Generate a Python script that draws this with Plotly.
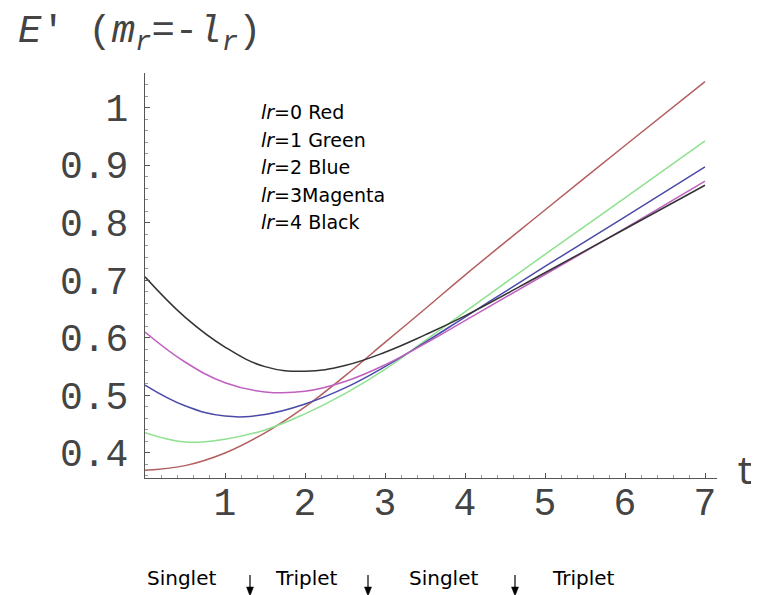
import plotly.graph_objects as go

t = [0, 0.5, 1, 1.5, 2, 2.5, 3, 3.5, 4, 5, 6, 7]
e_red = [0.370, 0.378, 0.400, 0.435, 0.480, 0.534, 0.592, 0.650, 0.709, 0.822, 0.934, 1.045]
e_green = [0.435, 0.419, 0.424, 0.440, 0.468, 0.503, 0.545, 0.595, 0.645, 0.745, 0.843, 0.942]
e_blue = [0.518, 0.482, 0.464, 0.467, 0.485, 0.513, 0.550, 0.592, 0.636, 0.724, 0.810, 0.897]
e_magenta = [0.610, 0.558, 0.522, 0.506, 0.507, 0.524, 0.553, 0.590, 0.630, 0.710, 0.790, 0.872]
e_black = [0.706, 0.636, 0.584, 0.550, 0.542, 0.552, 0.575, 0.605, 0.638, 0.713, 0.789, 0.865]

series = [
    ("Red", e_red, "#b45e5e"),
    ("Green", e_green, "#8fe08f"),
    ("Blue", e_blue, "#4a4aa8"),
    ("Magenta", e_magenta, "#c060c0"),
    ("Black", e_black, "#333333"),
]

x_ticks = [1, 2, 3, 4, 5, 6, 7]
y_ticks = [0.4, 0.5, 0.6, 0.7, 0.8, 0.9, 1.0]
y_tick_text = ["0.4", "0.5", "0.6", "0.7", "0.8", "0.9", "1"]
legend_lines = ["<i>lr</i>=0 Red", "<i>lr</i>=1 Green", "<i>lr</i>=2 Blue",
                "<i>lr</i>=3Magenta", "<i>lr</i>=4 Black"]
bottom_labels = ["Singlet", "Triplet", "Singlet", "Triplet"]

fig = go.Figure()
for name, vals, col in series:
    fig.add_trace(go.Scatter(x=t, y=vals, mode="lines", name=name,
                             line=dict(color=col, width=1.5, shape="spline", smoothing=1.2)))

mono = "Liberation Mono"
# page body has an 8px margin; screen = figure + 8
PL, PT, PR, PB = 137, 65, 50, 125
W, H = 759, 595
plot_w = W - PL - PR
plot_h = H - PT - PB
sx0 = PL + 8          # screen x of plot left
sy0 = PT + 8 + plot_h  # screen y of plot bottom


def px(sx):
    return (sx - sx0) / plot_w


def py(sy):
    return (sy0 - sy) / plot_h


fig.update_layout(
    width=W, height=H,
    margin=dict(l=PL, r=PR, t=PT, b=PB),
    paper_bgcolor="white", plot_bgcolor="white",
    showlegend=False,
    xaxis=dict(range=[0, 7.15], showgrid=False, zeroline=False,
               showline=True, linecolor="#555", linewidth=1,
               tickvals=x_ticks, ticks="inside", ticklen=5, tickcolor="#555",
               ticklabelstandoff=-10,
               minor=dict(ticks="inside", ticklen=3, dtick=0.2, tickcolor="#999"),
               tickfont=dict(family=mono, size=38, color="#444")),
    yaxis=dict(range=[0.3565, 1.06], showgrid=False, zeroline=False,
               showline=True, linecolor="#555", linewidth=1,
               tickvals=y_ticks, ticktext=y_tick_text, ticks="inside", ticklen=5,
               tickcolor="#555", ticklabelstandoff=8,
               minor=dict(ticks="inside", ticklen=3, dtick=0.02, tickcolor="#999"),
               tickfont=dict(family=mono, size=38, color="#444")),
)

# axis title t
fig.add_annotation(xref="paper", yref="paper", x=px(733), y=py(473), xanchor="left",
                   yanchor="middle", text="t", showarrow=False,
                   font=dict(family=mono, size=38, color="#444"))
# y title
fig.add_annotation(xref="paper", yref="paper", x=px(16), y=py(34), xanchor="left",
                   yanchor="middle",
                   text="<i>E</i>' (<i>m<sub>r</sub></i>=-<i>l<sub>r</sub></i>)", showarrow=False,
                   font=dict(family=mono, size=39, color="#444"))
# legend text
for i, line in enumerate(legend_lines):
    fig.add_annotation(xref="paper", yref="paper", x=px(259), y=py(112 + 27.5 * i),
                       xanchor="left", yanchor="middle", text=line, showarrow=False,
                       font=dict(family="DejaVu Sans", size=19, color="black"))
# bottom labels with arrows
label_x = [145, 273, 407, 550]
arrow_x = [250, 368, 515]
for lx, lab in zip(label_x, bottom_labels):
    fig.add_annotation(xref="paper", yref="paper", x=px(lx), y=py(578),
                       xanchor="left", yanchor="middle",
                       text=lab, showarrow=False,
                       font=dict(family="DejaVu Sans", size=20, color="black"))
for ax in arrow_x:
    fig.add_shape(type="line", xref="paper", yref="paper",
                  x0=px(ax), x1=px(ax), y0=py(575), y1=py(590),
                  line=dict(color="black", width=1.2))
    fig.add_shape(type="path", xref="paper", yref="paper",
                  path=f"M {px(ax - 3.5)} {py(587)} L {px(ax + 3.5)} {py(587)} L {px(ax)} {py(596)} Z",
                  fillcolor="black", line=dict(color="black", width=0.5))

fig.write_html("out.html")
